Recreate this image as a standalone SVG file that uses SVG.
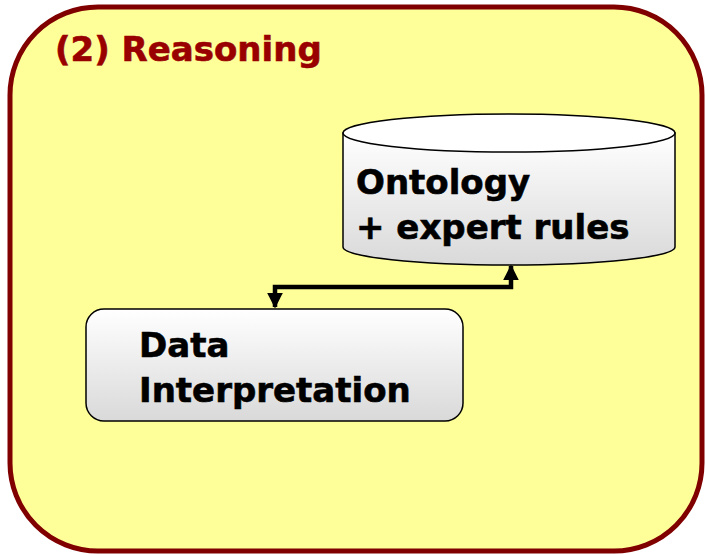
<svg xmlns="http://www.w3.org/2000/svg" width="705" height="554" viewBox="0 0 705 554">
  <defs>
    <linearGradient id="shade" x1="0" y1="0" x2="0" y2="1">
      <stop offset="0" stop-color="#ffffff"/>
      <stop offset="1" stop-color="#d9d9d9"/>
    </linearGradient>
    <marker id="head" viewBox="0 0 10 10" refX="9" refY="5" markerWidth="3.5" markerHeight="3.5" orient="auto-start-reverse" markerUnits="strokeWidth">
      <path d="M0,0 L10,5 L0,10 Z" fill="#000"/>
    </marker>
  </defs>
  <style>
    .lbl { font-family: "DejaVu Sans", Verdana, sans-serif; font-weight: bold; font-size: 34px; fill: #000; stroke: #000; stroke-width: 0.6; }
    .title { font-family: "DejaVu Sans", Verdana, sans-serif; font-weight: bold; font-size: 34px; fill: #990000; stroke: #990000; stroke-width: 0.6; }
    .shape { stroke: #000; stroke-width: 1.5; }
  </style>

  <!-- reasoning panel -->
  <g id="panel">
    <rect x="10" y="7" width="692" height="544" rx="88" ry="88" fill="#ffff99" stroke="#800000" stroke-width="5"/>
    <text class="title" x="55" y="61">(2) Reasoning</text>
  </g>

  <!-- knowledge store -->
  <g id="ontology">
    <path class="shape" fill="url(#shade)" d="M343,133 L343,247 A166,18 0 0 0 675,247 L675,133 Z"/>
    <ellipse class="shape" cx="509" cy="133" rx="166" ry="19" fill="#ffffff"/>
    <text class="lbl" x="356" y="194">Ontology</text>
    <text class="lbl" x="356" y="239">+ expert rules</text>
  </g>

  <!-- interpretation step -->
  <g id="interpretation">
    <rect class="shape" x="86" y="309" width="377" height="112" rx="18" ry="18" fill="url(#shade)"/>
    <text class="lbl" x="139" y="357">Data</text>
    <text class="lbl" x="139" y="402">Interpretation</text>
  </g>

  <!-- two-way link -->
  <g id="connectors">
    <path d="M275,307 L275,287 L511,287 L511,266" fill="none" stroke="#000" stroke-width="4.5" marker-start="url(#head)" marker-end="url(#head)"/>
  </g>
</svg>
